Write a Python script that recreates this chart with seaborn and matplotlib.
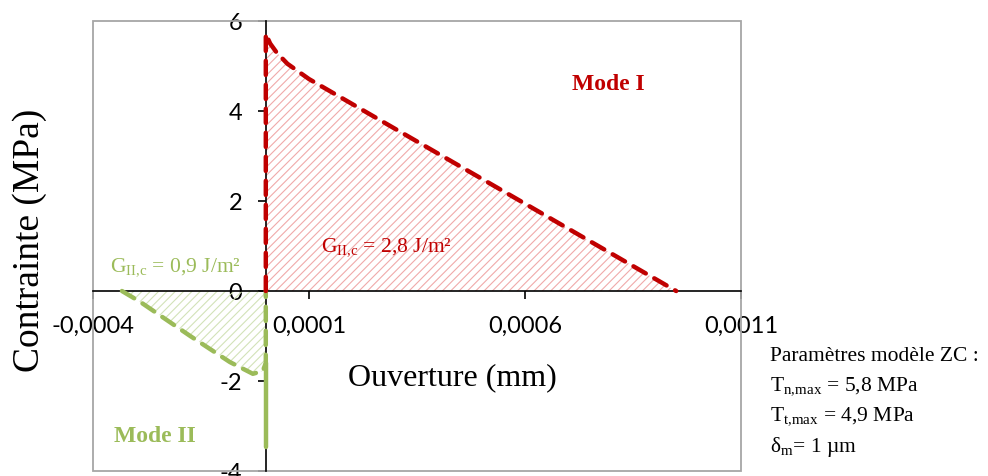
import numpy as np
import seaborn as sns
import matplotlib.pyplot as plt
from matplotlib.patches import Rectangle

# Mode I (rouge) : ouverture (mm) / contrainte (MPa)
mode1_x = [0, 0, 0.000003, 0.00001, 0.000025, 0.00005, 0.0001, 0.0003, 0.0006, 0.00095]
mode1_y = [0, 5.72, 5.65, 5.5, 5.3, 5.05, 4.71, 3.6, 1.94, 0]

# Mode II (vert)
mode2_x = [-0.000333, -0.000291, -0.000175, -0.000083, -0.00003, -0.000007, 0, 0]
mode2_y = [0, -0.24, -1.0, -1.58, -1.84, -1.78, -1.6, 0]
mode2_tail_x = [0, 0]
mode2_tail_y = [-1.6, -3.47]

xticks = [-0.0004, 0.0001, 0.0006, 0.0011]
xtick_labels = ['-0,0004', '0,0001', '0,0006', '0,0011']
yticks = [-4, -2, 0, 2, 4, 6]
ytick_labels = ['-4', '-2', '0', '2', '4', '6']

RED = '#C00000'
GREEN = '#9BBB59'

sns.set_style('white')
plt.rcParams['font.family'] = ['Liberation Serif', 'DejaVu Serif']
plt.rcParams['mathtext.fontset'] = 'custom'
plt.rcParams['mathtext.rm'] = 'Liberation Serif'
plt.rcParams['hatch.linewidth'] = 0.8
plt.rcParams['text.color'] = 'black'

fig = plt.figure(figsize=(9.88, 4.77), dpi=100)
ax = fig.add_axes([93 / 988, 1 - 472 / 477, 648 / 988, 450 / 477])

# zones hachurees
ax.fill_between(mode1_x, mode1_y, 0, facecolor='none', edgecolor='#F0AAAA',
                hatch='////', linewidth=0)
ax.fill_between(mode2_x, mode2_y, 0, facecolor='none', edgecolor='#D3E2B8',
                hatch='////', linewidth=0)

sns.lineplot(x=mode2_tail_x, y=mode2_tail_y, sort=False, estimator=None,
             color=GREEN, linewidth=3.2, ax=ax)
sns.lineplot(x=mode2_x, y=mode2_y, sort=False, estimator=None,
             color=GREEN, linewidth=3.2, ax=ax)
ax.lines[-1].set_dashes((3.2, 2.2))
ax.lines[-1].set_dash_capstyle('round')
sns.lineplot(x=mode1_x, y=mode1_y, sort=False, estimator=None,
             color=RED, linewidth=3.2, ax=ax)
ax.lines[-1].set_dashes((3.2, 2.2))
ax.lines[-1].set_dash_capstyle('round')

ax.set_xlim(-0.0004, 0.0011)
ax.set_ylim(-4, 6)

# axes passant par zero
for s in ['top', 'right']:
    ax.spines[s].set_visible(False)
for s in ['left', 'bottom']:
    ax.spines[s].set_position(('data', 0))
    ax.spines[s].set_color('black')
    ax.spines[s].set_linewidth(1.2)
    ax.spines[s].set_zorder(1)

ax.set_xticks(xticks)
ax.set_xticklabels(xtick_labels, family='Lato', fontsize=17)
ax.set_yticks(yticks)
ax.set_yticklabels(ytick_labels, family='Lato', fontsize=17)
ax.tick_params(axis='x', direction='out', length=6, width=1.2, pad=11,
               bottom=True, colors='black')
ax.tick_params(axis='y', direction='out', length=6, width=1.2, pad=11,
               left=True, colors='black')

# cadre gris
ax.add_patch(Rectangle((0, 0), 1, 1, transform=ax.transAxes, fill=False,
                       edgecolor='#A6A6A6', linewidth=1.3, clip_on=False))

fig.text(452 / 988, 1 - 378 / 477, 'Ouverture (mm)', fontsize=23,
         ha='center', va='center')
fig.text(30 / 988, 1 - 240 / 477, 'Contrainte (MPa)', fontsize=27,
         ha='center', va='center', rotation=90)

ax.text(0.000792, 4.62, 'Mode I', color=RED, fontsize=17, fontweight='bold',
        ha='center', va='center')
ax.text(-0.000256, -3.2, 'Mode II', color=GREEN, fontsize=17, fontweight='bold',
        ha='center', va='center')
ax.text(0.00028, 0.98, r'G$_{\rm II{,}c}$ = 2,8 J/m²', color=RED, fontsize=15.5,
        ha='center', va='center')
ax.text(-0.00021, 0.53, r'G$_{\rm II{,}c}$ = 0,9 J/m²', color=GREEN, fontsize=15.5,
        ha='center', va='center')

params = ['Paramètres modèle ZC :', r'T$_{\rm n{,}max}$ = 5,8 MPa',
          r'T$_{\rm t{,}max}$ = 4,9 MPa', r'δ$_{\rm m}$= 1 µm']
for i, line in enumerate(params):
    fig.text(770 / 988, 1 - (357 + 30 * i) / 477, line, fontsize=15.5,
             ha='left', va='center', color='black')

fig.savefig('out.png', dpi=100)
